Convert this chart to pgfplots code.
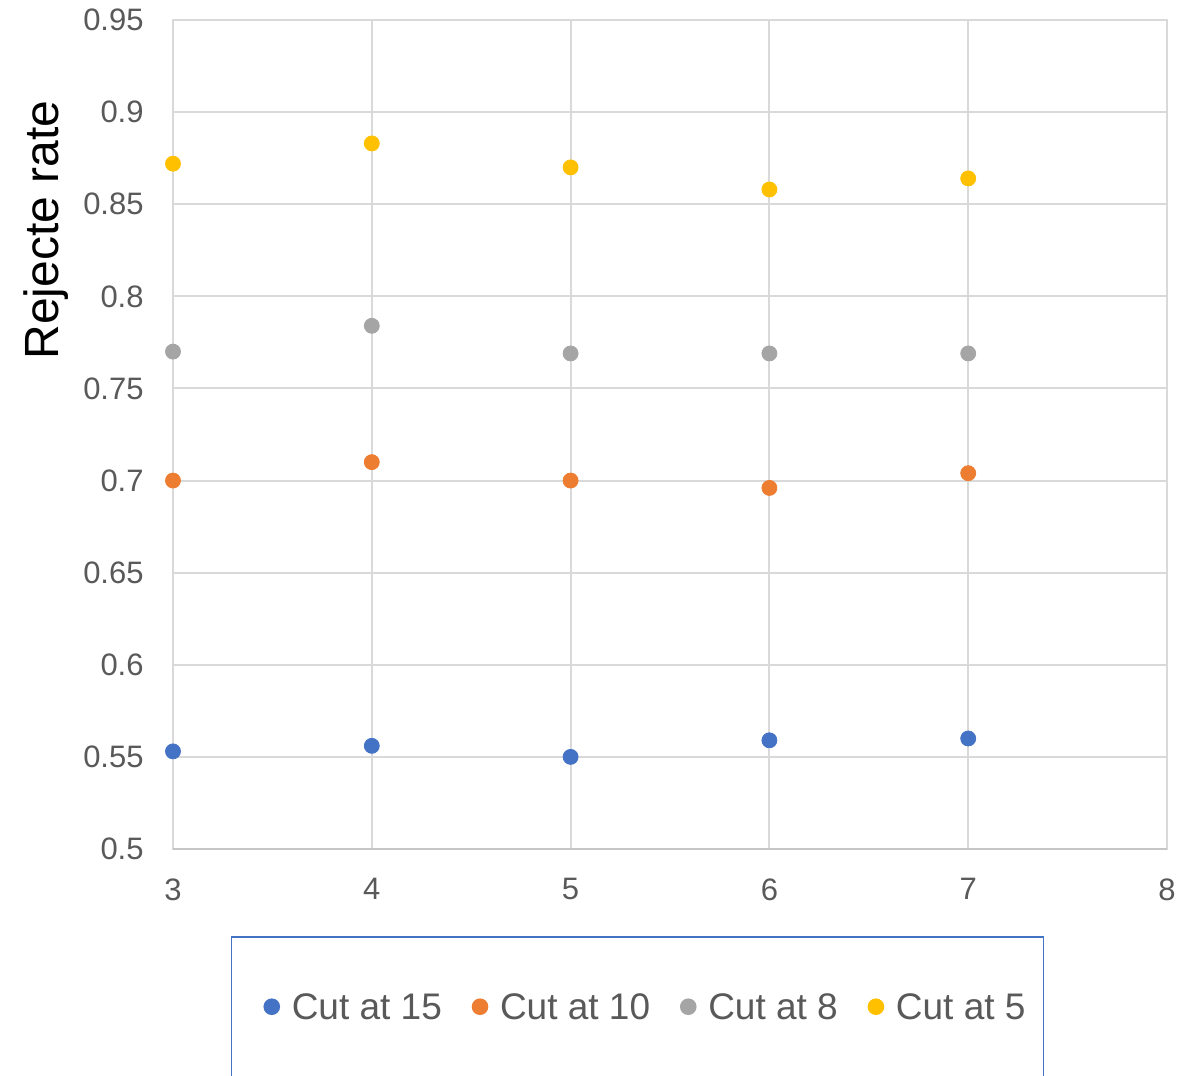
\documentclass[border=0pt]{standalone}
\usepackage{fontspec}
\setmainfont{Liberation Sans}
\usepackage{pgfplots}
\pgfplotsset{compat=1.18}

\definecolor{cutA}{HTML}{4472C4}
\definecolor{cutB}{HTML}{ED7D31}
\definecolor{cutC}{HTML}{A5A5A5}
\definecolor{cutD}{HTML}{FFC000}
\definecolor{gridgray}{HTML}{D9D9D9}
\definecolor{axisgray}{HTML}{C6C6C6}
\definecolor{ticktext}{HTML}{595959}

% the first legend image carries extra room on its left
\pgfplotsset{
  first legend image/.style={
    legend image code/.code={\path (-10.75pt,0pt);
      \draw[##1] plot coordinates {(0pt,0pt)};}},
}

\begin{document}
\begin{tikzpicture}
\begin{axis}[
  scale only axis,
  width=497pt, height=414.5pt,
  xmin=3, xmax=8, ymin=0.5, ymax=0.95,
  xtick={3,4,5,6,7,8},
  ytick={0.5,0.55,0.6,0.65,0.7,0.75,0.8,0.85,0.9,0.95},
  clip=false,
  grid=major,
  major grid style={gridgray, line width=1pt},
  axis line style={gridgray, line width=1pt},
  tick style={draw=none},
  major tick length=0pt,
  /pgf/number format/.cd, fixed, precision=2, assume math mode=true,
  /pgfplots/.cd,
  tick label style={font=\fontsize{15.5}{18}\selectfont, text=ticktext},
  xticklabel style={inner sep=0pt, anchor=north, yshift=-14.5pt},
  yticklabel style={inner sep=0pt, anchor=east, xshift=-14.5pt},
  ylabel={Rejecte rate},
  ylabel style={at={(axis description cs:-0.1147,0.7467)}, anchor=base,
                inner sep=0pt, font=\fontsize{24}{28}\selectfont, text=black},
  legend columns=4,
  legend image code/.code={\draw[#1] plot coordinates {(0pt,0pt)};},
  legend style={
    at={(axis description cs:0.4673,0)}, anchor=north, yshift=-43.5pt,
    draw=cutA, line width=0.8pt,
    inner xsep=9pt, inner ysep=28.5pt,
    font=\fontsize{18.5}{22}\selectfont, text=ticktext,
    nodes={inner sep=0pt, text depth=0pt},
    cells={anchor=center},
    /tikz/every odd column/.append style={column sep=6.25pt},
    /tikz/every even column/.append style={column sep=15.3pt},
  },
]
\addplot[only marks, mark=*, mark size=3.75pt, color=cutA,
  mark options={draw=none, fill=cutA}, first legend image]
  coordinates {(3,0.553) (4,0.556) (5,0.550) (6,0.559) (7,0.560)};
\addlegendentry{Cut at 15}
\addplot[only marks, mark=*, mark size=3.75pt, color=cutB,
  mark options={draw=none, fill=cutB}]
  coordinates {(3,0.700) (4,0.710) (5,0.700) (6,0.696) (7,0.704)};
\addlegendentry{Cut at 10}
\addplot[only marks, mark=*, mark size=3.75pt, color=cutC,
  mark options={draw=none, fill=cutC}]
  coordinates {(3,0.770) (4,0.784) (5,0.769) (6,0.769) (7,0.769)};
\addlegendentry{Cut at 8}
\addplot[only marks, mark=*, mark size=3.75pt, color=cutD,
  mark options={draw=none, fill=cutD}]
  coordinates {(3,0.872) (4,0.883) (5,0.870) (6,0.858) (7,0.864)};
\addlegendentry{Cut at 5}

% slightly darker horizontal axis line
\draw[axisgray, line width=1pt] (rel axis cs:0,0) -- (rel axis cs:1,0);
\coordinate (o) at (rel axis cs:0,0);
\end{axis}
\pgfresetboundingbox
\useasboundingbox (o) ++(-86.5pt,-113pt) rectangle ++(601pt,537.5pt);
\end{tikzpicture}
\end{document}
